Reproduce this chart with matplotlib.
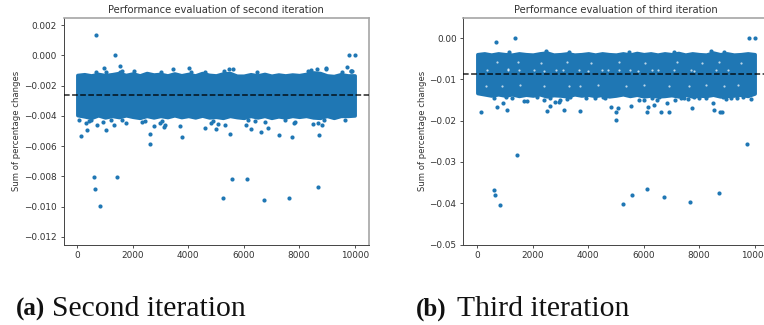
import matplotlib
matplotlib.use('Agg')
import matplotlib.pyplot as plt

W, H = 764, 325

band_x = [0, 250, 500, 750, 1000, 1250, 1500, 1750, 2000, 2250, 2500, 2750, 3000, 3250,
          3500, 3750, 4000, 4250, 4500, 4750, 5000, 5250, 5500, 5750, 6000, 6250, 6500,
          6750, 7000, 7250, 7500, 7750, 8000, 8250, 8500, 8750, 9000, 9250, 9500, 9750, 10000]
second_top = [-0.00130, -0.00125, -0.00133, -0.00123, -0.00131, -0.00125, -0.00117, -0.00130,
              -0.00120, -0.00133, -0.00117, -0.00127, -0.00123, -0.00133, -0.00120, -0.00132,
              -0.00123, -0.00133, -0.00117, -0.00129, -0.00133, -0.00120, -0.00117, -0.00135,
              -0.00135, -0.00125, -0.00133, -0.00123, -0.00135, -0.00127, -0.00133, -0.00127,
              -0.00131, -0.00123, -0.00113, -0.00117, -0.00133, -0.00137, -0.00125, -0.00133, -0.00133]
second_bottom = [-0.00395, -0.00403, -0.00413, -0.00396, -0.00410, -0.00400, -0.00408, -0.00396,
                 -0.00406, -0.00413, -0.00400, -0.00410, -0.00400, -0.00408, -0.00396, -0.00408,
                 -0.00400, -0.00410, -0.00398, -0.00410, -0.00406, -0.00413, -0.00400, -0.00408,
                 -0.00413, -0.00400, -0.00410, -0.00400, -0.00413, -0.00403, -0.00410, -0.00400,
                 -0.00406, -0.00400, -0.00410, -0.00413, -0.00400, -0.00413, -0.00400, -0.00400, -0.00397]
third_top = [-0.0039, -0.0037, -0.0040, -0.0037, -0.0039, -0.0040, -0.0037, -0.0039, -0.0040,
             -0.0037, -0.0035, -0.0040, -0.0039, -0.0037, -0.0040, -0.0039, -0.0037, -0.0040,
             -0.0037, -0.0039, -0.0040, -0.0037, -0.0040, -0.0036, -0.0039, -0.0037, -0.0040,
             -0.0037, -0.0039, -0.0036, -0.0040, -0.0037, -0.0039, -0.0040, -0.0035, -0.0039,
             -0.0037, -0.0040, -0.0039, -0.0037, -0.0039]
third_bottom = [-0.0133, -0.0136, -0.0139, -0.0136, -0.0139, -0.0136, -0.0140, -0.0137, -0.0139,
                -0.0136, -0.0141, -0.0138, -0.0139, -0.0141, -0.0136, -0.0139, -0.0137, -0.0140,
                -0.0137, -0.0141, -0.0139, -0.0136, -0.0140, -0.0137, -0.0141, -0.0139, -0.0141,
                -0.0140, -0.0138, -0.0141, -0.0137, -0.0141, -0.0139, -0.0140, -0.0137, -0.0141,
                -0.0140, -0.0139, -0.0137, -0.0140, -0.0134]

# Points standing clear of the band
second_x = [663, 1350, 9783, 10000, 602, 627, 819, 1422, 5241, 5578, 6108, 6723, 7639, 8687,
            133, 2614, 2602, 3771, 361, 1048, 5518, 7265, 7723, 8723, 6614, 4988, 4602, 48,
            699, 1337, 1771, 2771, 2964, 3108, 3687, 4819, 5325, 6084, 6265, 6880, 7807, 8506,
            8807, 976, 1530, 3434, 4036, 5458, 5602, 8639, 8952, 9735, 9855, 9530, 5301, 2048,
            # close under and over the band
            300, 420, 500, 930, 1230, 1600, 2320, 2450, 3040, 3160, 4880, 5060, 6150, 6420,
            6780, 7480, 7850, 8680, 8900, 9650, 680, 1040, 1550, 1620, 3010, 4090, 4610, 6480,
            8330, 8420, 8950, 9880, 9920]
second_y = [0.00134, 0.0, 0.0, 0.0, -0.00803, -0.0088, -0.00995, -0.00803, -0.00942, -0.00814,
            -0.00819, -0.00958, -0.00944, -0.00869, -0.00535, -0.00583, -0.00522, -0.00539,
            -0.00491, -0.00493, -0.0052, -0.00524, -0.00539, -0.00526, -0.00506, -0.00486,
            -0.00482, -0.00429, -0.00458, -0.00462, -0.00445, -0.00469, -0.00449, -0.00471,
            -0.00467, -0.00449, -0.00458, -0.0046, -0.00486, -0.00478, -0.00449, -0.00453,
            -0.00462, -0.00084, -0.00068, -0.00092, -0.00084, -0.00092, -0.00092, -0.00092,
            -0.00092, -0.00075, -0.00103, -0.00112, -0.00106, -0.00101,
            -0.00445, -0.00432, -0.00425, -0.00438, -0.00428, -0.00425, -0.00438, -0.00435,
            -0.00432, -0.00458, -0.00435, -0.00455, -0.00428, -0.00432, -0.00440, -0.00425,
            -0.00440, -0.00448, -0.00428, -0.00425, -0.00112, -0.00112, -0.00108, -0.00105,
            -0.00108, -0.00108, -0.00108, -0.00110, -0.00102, -0.00098, -0.00082, -0.00104, -0.00105]
third_x = [675, 1360, 9807, 10000, 9735, 1420, 602, 626, 830, 5247, 5584, 6113, 6739, 7653, 8700,
           132, 698, 939, 1059, 2503, 2635, 3117, 3694, 4825, 5006, 5006, 5078, 5535, 6101, 6161,
           6630, 6895, 6847, 7738, 8544, 8736, 8821, 8508, 1673, 1793, 2816, 2960, 2395, 3923,
           5824, 6366, 9134, 9880, 9374, 7124, 7449, 7990, 590,
           # close under and over the band
           1040, 1240, 2150, 2620, 2980, 3240, 3350, 4250, 4520, 4600, 6020, 6300, 6480, 6560,
           7350, 7610, 7820, 8230, 8850, 8960, 9580, 1150, 2460, 3300, 5480, 7100, 8420, 8900]
third_y = [-0.00105, 0.0, 0.0, 0.0, -0.0257, -0.0283, -0.0367, -0.0379, -0.0404, -0.0401, -0.038,
           -0.0366, -0.0385, -0.0398, -0.0376, -0.0178, -0.0167, -0.0158, -0.0174, -0.0176,
           -0.0165, -0.0175, -0.0176, -0.0166, -0.0178, -0.0199, -0.017, -0.0165, -0.0179, -0.0167,
           -0.0178, -0.0178, -0.0158, -0.0169, -0.0175, -0.0179, -0.0179, -0.0157, -0.0153, -0.0153,
           -0.0154, -0.0155, -0.0149, -0.0146, -0.0149, -0.0163, -0.0146, -0.0148, -0.0146, -0.0149,
           -0.0146, -0.0146, -0.0146,
           -0.0143, -0.0145, -0.0142, -0.0146, -0.0150, -0.0147, -0.0143, -0.0144, -0.0142, -0.0146,
           -0.0149, -0.0145, -0.0149, -0.0143, -0.0144, -0.0147, -0.0143, -0.0145, -0.0143, -0.0148,
           -0.0143, -0.0033, -0.0031, -0.0034, -0.0033, -0.0033, -0.0032, -0.0034]

# Small white gaps inside the third iteration band
gap_x = [700, 1100, 1450, 2050, 2300, 2850, 3250, 3650, 4100, 4500, 5100, 5500, 6050, 6500,
         7200, 7700, 8100, 8700, 9050, 9500, 300, 900, 1550, 2400, 3300, 3700, 4350, 5350, 6000, 6900, 7650, 8250,
         8900, 9400, 350, 1100, 1500, 2400, 3100, 4000, 4700, 5100, 5800, 6300, 7100, 7800, 8600]
gap_y = [-0.0059, -0.0078, -0.0058, -0.0077, -0.0060, -0.0077, -0.0058, -0.0078, -0.0060,
         -0.0076, -0.0058, -0.0078, -0.0060, -0.0077, -0.0058, -0.0078, -0.0060, -0.0057,
         -0.0076, -0.0060, -0.0115, -0.0116, -0.0113, -0.0115, -0.0116, -0.0116, -0.0114,
         -0.0115, -0.0113, -0.0115, -0.0116, -0.0114, -0.0115, -0.0113, -0.0076, -0.0075,
         -0.0077, -0.0079, -0.0078, -0.0080, -0.0078, -0.0077, -0.0079, -0.0078, -0.0076, -0.0079, -0.0078]

second_mean = -0.00262
third_mean = -0.0088
xticks = [0, 2000, 4000, 6000, 8000, 10000]
second_yticks = [0.002, 0.0, -0.002, -0.004, -0.006, -0.008, -0.010, -0.012]
third_yticks = [0.0, -0.01, -0.02, -0.03, -0.04, -0.05]

plt.rcParams['font.family'] = ['DejaVu Sans']
fig = plt.figure(figsize=(W / 100, H / 100), dpi=100)

BLUE = '#1f77b4'
TEXT = '#333333'


def panel(left, title, top, bottom, px, py, mean, yticks, fmt, ylim, label_x):
    ax = fig.add_axes([left / W, 1 - 244.5 / H, 305 / W, 227 / H])
    # thick stroke on the fill gives the band its rough outline
    ax.fill_between(band_x, bottom, top, facecolor=BLUE, edgecolor=BLUE, lw=2.6,
                    joinstyle='round', zorder=2)
    ax.scatter(px, py, s=9, color=BLUE, lw=0, zorder=2)
    ax.axhline(mean, color='black', ls='--', lw=1.1, zorder=4, alpha=0.85)
    ax.set_xlim(-500, 10500)
    ax.set_ylim(*ylim)
    ax.set_xticks(xticks)
    ax.set_yticks(yticks)
    ax.set_yticklabels([(fmt % v).replace('-', '\u2212') for v in yticks])
    ax.tick_params(labelsize=6.4, length=2.5, width=0.6, pad=2.5, colors=TEXT)
    ax.set_title(title, fontsize=7.2, pad=3.2, color=TEXT)
    ax.set_ylabel('Sum of percentage changes', fontsize=6.1, color=TEXT)
    ax.yaxis.set_label_coords(label_x, 0.5)
    for side in ['left', 'bottom']:
        ax.spines[side].set_linewidth(0.7)
        ax.spines[side].set_color('#444444')
    for side in ['top', 'right']:
        ax.spines[side].set_linewidth(1.2)
        ax.spines[side].set_color('#a6a6a6')
    return ax


ax1 = panel(63.5, 'Performance evaluation of second iteration', second_top, second_bottom,
            second_x, second_y, second_mean, second_yticks, '%.3f', (-0.0125, 0.0025), -0.138)
ax2 = panel(463.5, 'Performance evaluation of third iteration', third_top, third_bottom,
            third_x, third_y, third_mean, third_yticks, '%.2f', (-0.05, 0.005), -0.120)
ax2.scatter(gap_x, gap_y, s=2.5, color='white', lw=0, alpha=0.7, zorder=3)

# Sub-captions
CAP = dict(family='Liberation Serif', color='#111111', va='baseline')
fig.text(16 / W, 1 - 315.5 / H, '(a)', fontweight='bold', fontsize=18, **CAP)
fig.text(52 / W, 1 - 315.5 / H, 'Second iteration', fontsize=21.3, **CAP)
fig.text(416 / W, 1 - 315.5 / H, '(b)', fontweight='bold', fontsize=18, **CAP)
fig.text(457 / W, 1 - 315.5 / H, 'Third iteration', fontsize=21.3, **CAP)

plt.savefig('out.png', dpi=100)
